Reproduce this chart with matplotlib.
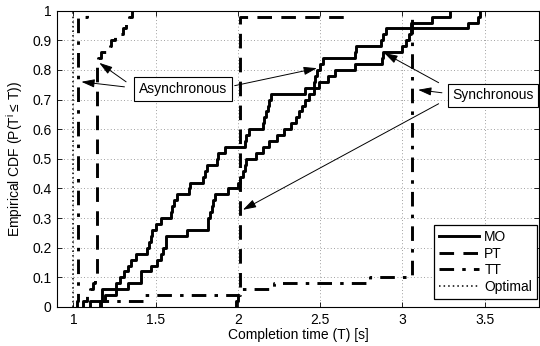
import numpy as np
import matplotlib
matplotlib.use('Agg')
import matplotlib.pyplot as plt

plt.rcParams['font.family'] = ['Liberation Sans', 'DejaVu Sans']
plt.rcParams['mathtext.fontset'] = 'custom'
plt.rcParams['mathtext.rm'] = 'Liberation Sans'
plt.rcParams['mathtext.it'] = 'Liberation Sans:italic'

# empirical CDFs: step time (s) and CDF level after the step
mo_async_t = [1.10, 1.175, 1.26, 1.28, 1.31, 1.33, 1.35, 1.38, 1.45, 1.46, 1.47, 1.48, 1.50,
              1.53, 1.59, 1.60, 1.61, 1.63, 1.70, 1.71, 1.79, 1.80, 1.81, 1.87, 1.88, 1.92,
              2.04, 2.05, 2.07, 2.15, 2.16, 2.17, 2.18, 2.19, 2.20, 2.41, 2.46, 2.47, 2.48,
              2.50, 2.52, 2.71, 2.72, 2.87, 2.88, 2.90, 3.05, 3.18, 3.29]
mo_async_F = [0.02, 0.06, 0.08, 0.10, 0.12, 0.14, 0.16, 0.18, 0.20, 0.22, 0.24, 0.26, 0.28,
              0.30, 0.32, 0.34, 0.36, 0.38, 0.40, 0.42, 0.44, 0.46, 0.48, 0.50, 0.52, 0.54,
              0.56, 0.58, 0.60, 0.62, 0.64, 0.66, 0.68, 0.70, 0.72, 0.74, 0.76, 0.78, 0.80,
              0.82, 0.84, 0.86, 0.88, 0.90, 0.92, 0.94, 0.96, 0.98, 1.00]

mo_sync_t = [1.17, 1.19, 1.26, 1.33, 1.41, 1.47, 1.51, 1.53, 1.545, 1.56, 1.69, 1.815, 1.82,
             1.83, 1.84, 1.85, 1.86, 1.94, 2.00, 2.01, 2.03, 2.04, 2.05, 2.11, 2.15, 2.19,
             2.24, 2.28, 2.32, 2.35, 2.37, 2.39, 2.41, 2.43, 2.46, 2.49, 2.55, 2.59, 2.71,
             2.875, 2.88, 3.00, 3.02, 3.04, 3.05, 3.40, 3.46, 3.47]
mo_sync_F = [0.02, 0.04, 0.06, 0.08, 0.12, 0.14, 0.16, 0.18, 0.20, 0.24, 0.26, 0.28, 0.30,
             0.32, 0.34, 0.36, 0.38, 0.40, 0.42, 0.44, 0.46, 0.48, 0.50, 0.52, 0.54, 0.56,
             0.58, 0.60, 0.62, 0.64, 0.66, 0.68, 0.70, 0.72, 0.74, 0.76, 0.78, 0.80, 0.82,
             0.84, 0.86, 0.88, 0.90, 0.92, 0.94, 0.96, 0.98, 1.00]

pt_async_t = [1.06, 1.08, 1.10, 1.12, 1.13, 1.145, 1.15, 1.165, 1.22, 1.23, 1.25, 1.30, 1.32, 1.34, 1.355]
pt_async_F = [0.02, 0.04, 0.06, 0.08, 0.10, 0.82, 0.84, 0.86, 0.88, 0.90, 0.92, 0.94, 0.96, 0.98, 1.00]

pt_sync_t = [1.99, 2.00, 2.01, 2.015, 2.66]
pt_sync_F = [0.02, 0.04, 0.06, 0.98, 1.00]

tt_async_t = [1.02, 1.026, 1.08]
tt_async_F = [0.02, 0.98, 1.00]

tt_sync_t = [1.16, 1.42, 2.01, 2.22, 2.80, 3.06]
tt_sync_F = [0.02, 0.04, 0.06, 0.08, 0.10, 1.00]

opt_t = [0.997]
opt_F = [1.00]


def ecdf_xy(t, F):
    return np.r_[t[0], t], np.r_[0.0, F]


fig = plt.figure(figsize=(5.4, 3.46), dpi=100)
ax = fig.add_axes([57 / 540, 1 - 307 / 346, 482 / 540, 296.3 / 346])

fs = 10
lw = 2.1
dash = (0, (5, 3.2))
dashdot = (0, (5, 2.8, 1.2, 2.8))

x, y = ecdf_xy(mo_async_t, mo_async_F)
l_mo, = ax.step(x, y, where='post', color='k', lw=lw, label='MO')
x, y = ecdf_xy(mo_sync_t, mo_sync_F)
ax.step(x, y, where='post', color='k', lw=lw)

x, y = ecdf_xy(pt_async_t, pt_async_F)
l_pt, = ax.step(x, y, where='post', color='k', lw=lw, ls=dash, label='PT')
x, y = ecdf_xy(pt_sync_t, pt_sync_F)
ax.step(x, y, where='post', color='k', lw=lw, ls=dash)

x, y = ecdf_xy(tt_async_t, tt_async_F)
l_tt, = ax.step(x, y, where='post', color='k', lw=lw, ls=dashdot, label='TT')
x, y = ecdf_xy(tt_sync_t, tt_sync_F)
ax.step(x, y, where='post', color='k', lw=lw, ls=dashdot)

x, y = ecdf_xy(opt_t, opt_F)
l_opt, = ax.step(x, y, where='post', color='k', lw=1.1, ls=(0, (1, 2)), label='Optimal')

ax.set_xlim(0.9, 3.83)
ax.set_ylim(0, 1)
ax.set_xticks([1, 1.5, 2, 2.5, 3, 3.5])
ax.set_xticklabels(['1', '1.5', '2', '2.5', '3', '3.5'])
ax.set_yticks(np.arange(0, 1.01, 0.1))
ax.set_yticklabels(['0', '0.1', '0.2', '0.3', '0.4', '0.5', '0.6', '0.7', '0.8', '0.9', '1'])
ax.tick_params(direction='in', top=True, right=True, length=3.5, width=0.6, labelsize=fs, pad=4)
ax.grid(True, ls=(0, (1, 3)), color='0.5', lw=0.6)
for s in ax.spines.values():
    s.set_linewidth(0.8)

ax.set_xlabel('Completion time (T) [s]', fontsize=fs, labelpad=1)
ax.set_ylabel('Empirical CDF (P(T$^{\\mathregular{i}}$\u2009\u2264 T))', fontsize=fs, labelpad=5)

leg = ax.legend(handles=[l_mo, l_pt, l_tt, l_opt], loc='lower right',
                bbox_to_anchor=(0.996, 0.027), borderaxespad=0, fontsize=fs,
                handlelength=2.95, handletextpad=0.35, labelspacing=0.2,
                borderpad=0.35, fancybox=False, framealpha=1, edgecolor='k')
leg.get_frame().set_linewidth(0.9)

box = dict(boxstyle='square,pad=0.33', fc='white', ec='k', lw=0.8)
arr = dict(arrowstyle='-|>,head_length=0.8,head_width=0.25', color='k', lw=0.7,
           shrinkA=0, shrinkB=0)

ax.text(1.665, 0.736, 'Asynchronous', fontsize=fs, ha='center', va='center', bbox=box, zorder=5)
ax.annotate('', xy=(1.157, 0.824), xytext=(1.32, 0.76), arrowprops=arr)
ax.annotate('', xy=(1.048, 0.76), xytext=(1.31, 0.743), arrowprops=arr)
ax.annotate('', xy=(2.48, 0.806), xytext=(1.98, 0.747), arrowprops=arr)

ax.text(3.55, 0.714, 'Synchronous', fontsize=fs, ha='center', va='center', bbox=box, zorder=5)
ax.annotate('', xy=(2.89, 0.857), xytext=(3.22, 0.757), arrowprops=arr)
ax.annotate('', xy=(3.095, 0.733), xytext=(3.24, 0.723), arrowprops=arr)
ax.annotate('', xy=(2.03, 0.328), xytext=(3.22, 0.686), arrowprops=arr)

fig.savefig('out.png', dpi=100)
